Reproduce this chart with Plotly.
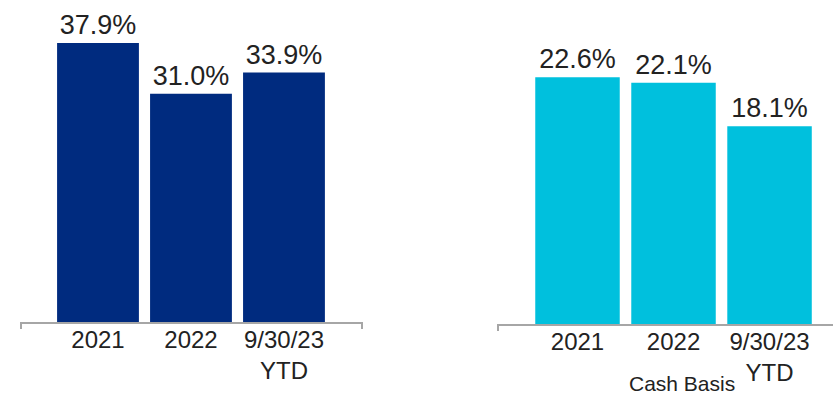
import plotly.graph_objects as go

categories = ["2021", "2022", "9/30/23<br>YTD"]
left_values = [37.9, 31.0, 33.9]
right_values = [22.6, 22.1, 18.1]
left_labels = ["37.9%", "31.0%", "33.9%"]
right_labels = ["22.6%", "22.1%", "18.1%"]
footnote = "Cash Basis"

W, H = 833, 396
NAVY = "#002B7F"
CYAN = "#00C0DD"
AXIS = "#A6A6A6"
TXT = "#222222"
FONT = "Liberation Sans, Arial, sans-serif"

fig = go.Figure()
fig.add_trace(go.Bar(
    x=categories, y=left_values, text=left_labels, textposition="outside",
    textfont=dict(size=27, color=TXT, family=FONT), marker=dict(color=NAVY, line=dict(width=0)),
    width=0.88, cliponaxis=False, xaxis="x", yaxis="y", hoverinfo="skip",
))
fig.add_trace(go.Bar(
    x=categories, y=right_values, text=right_labels, textposition="outside",
    textfont=dict(size=27, color=TXT, family=FONT), marker=dict(color=CYAN, line=dict(width=0)),
    width=0.88, cliponaxis=False, xaxis="x2", yaxis="y2", hoverinfo="skip",
))

def px_x(p):
    return p / W

def px_y(p):
    return (H - p) / H

axis_common = dict(
    showgrid=False, zeroline=False, showline=True, linecolor=AXIS, linewidth=2,
    ticks="", tickfont=dict(size=24, color=TXT, family=FONT), type="category",
    ticklabelstandoff=-5, fixedrange=True,
)
yaxis_common = dict(visible=False, showgrid=False, zeroline=False, fixedrange=True)

fig.update_layout(
    xaxis=dict(domain=[px_x(21), px_x(362)], range=[-0.828, 2.839], anchor="y", **axis_common),
    yaxis=dict(domain=[px_y(322), px_y(27.6)], range=[0, 40], anchor="x", **yaxis_common),
    xaxis2=dict(domain=[px_x(498), 1.0], range=[-0.828, 2.661], anchor="y2", **axis_common),
    yaxis2=dict(domain=[px_y(324), px_y(51)], range=[0, 25], anchor="x2", **yaxis_common),
)

shapes = []
for xref, xpos, ybase in [("x domain", 0, 322), ("x domain", 1, 322), ("x2 domain", 0, 324)]:
    shapes.append(dict(type="line", xref=xref, yref="paper", x0=xpos, x1=xpos,
                       y0=px_y(ybase), y1=px_y(ybase + 7), line=dict(color=AXIS, width=2)))

fig.update_layout(
    width=W, height=H, margin=dict(l=0, r=0, t=0, b=0),
    paper_bgcolor="white", plot_bgcolor="white", showlegend=False,
    shapes=shapes,
    annotations=[dict(text=footnote, xref="paper", yref="paper", x=px_x(682), y=px_y(383),
                      xanchor="center", yanchor="middle", showarrow=False,
                      font=dict(size=21, color=TXT, family=FONT))],
    font=dict(family=FONT, color=TXT),
)

fig.write_html("out.html")
